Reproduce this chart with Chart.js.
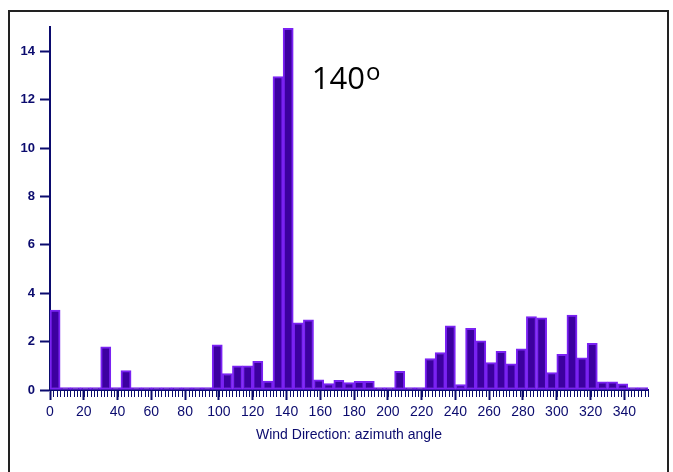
<!DOCTYPE html>
<html>
<head>
<meta charset="utf-8">
<script src="https://cdn.jsdelivr.net/npm/chart.js@4.4.1/dist/chart.umd.min.js"></script>
<style>
  html, body { margin: 0; padding: 0; background: #fff; }
  #wrap { width: 673px; height: 472px; }
</style>
</head>
<body>
<div id="wrap"><canvas id="windChart" width="673" height="472"></canvas></div>
<script>
// wind direction bins (left edge, degrees), each 6 degrees wide
const binStarts = [
    0, 6, 12, 18, 24, 30, 36, 42, 48, 54, 60, 66, 72, 78, 84, 90,
    96, 102, 108, 114, 120, 126, 132, 138, 144, 150, 156, 162, 168, 174,
    180, 186, 192, 198, 204, 210, 216, 222, 228, 234, 240, 246, 252, 258,
    264, 270, 276, 282, 288, 294, 300, 306, 312, 318, 324, 330, 336, 342, 348
];
const binWidth = 6;

const counts = [
    3.3, 0.1, 0.1, 0.1, 0.1, 1.78, 0.1, 0.8, 0.1, 0.1, 0.1, 0.1, 0.1, 0.1, 0.1, 0.1,
    1.87, 0.68, 1.0, 1.0, 1.18, 0.37, 12.95, 14.95, 2.78, 2.9, 0.42, 0.27, 0.4, 0.31,
    0.36, 0.36, 0.1, 0.1, 0.77, 0.1, 0.1, 1.3, 1.55, 2.65, 0.22, 2.55, 2.03, 1.13,
    1.6, 1.08, 1.7, 3.03, 2.98, 0.72, 1.47, 3.1, 1.33, 1.93, 0.34, 0.34, 0.26, 0.1, 0.1
];

const yTicks = [0, 2, 4, 6, 8, 10, 12, 14];
const xTicks = [0, 20, 40, 60, 80, 100, 120, 140, 160, 180, 200, 220, 240, 260, 280, 300, 320, 340];

const navy = '#0b0b6e';

const framePlugin = {
    id: 'frame',
    beforeDraw(chart) {
        const ctx = chart.ctx;
        ctx.save();
        ctx.fillStyle = '#fff';
        ctx.fillRect(0, 0, chart.width, chart.height);
        ctx.strokeStyle = '#222';
        ctx.lineWidth = 2;
        ctx.strokeRect(9, 11, 659, 500);
        ctx.restore();
    }
};

// small ticks every 2 degrees along the x axis
const minorTicks = {
    id: 'minorTicks',
    afterDraw(chart) {
        const ctx = chart.ctx;
        const x = chart.scales.x;
        const y0 = chart.chartArea.bottom + 1;
        ctx.save();
        ctx.strokeStyle = navy;
        ctx.lineWidth = 1;
        for (let v = 0; v <= 354; v += 2) {
            const px = Math.round(x.getPixelForValue(v)) + 0.5;
            ctx.beginPath();
            ctx.moveTo(px, y0);
            ctx.lineTo(px, y0 + 6);
            ctx.stroke();
        }
        ctx.restore();
    }
};

const peakLabel = {
    id: 'peakLabel',
    afterDraw(chart) {
        const ctx = chart.ctx;
        const px = chart.scales.x.getPixelForValue(155);
        const py = chart.scales.y.getPixelForValue(12.45);
        ctx.save();
        ctx.fillStyle = '#000';
        ctx.textBaseline = 'alphabetic';
        ctx.font = '31px "Open Sans"';
        ctx.fillText('140', px, py);
        const w = ctx.measureText('140').width;
        ctx.font = '24px "Open Sans"';
        ctx.fillText('o', px + w + 1, py - 9);
        ctx.restore();
    }
};

const ctx = document.getElementById('windChart').getContext('2d');
const windChart = new Chart(ctx, {
    type: 'bar',
    data: {
        datasets: [{
            label: 'Wind Direction',
            data: binStarts.map((b, i) => ({ x: b + binWidth / 2, y: counts[i] })),
            backgroundColor: '#3c00a0',
            borderColor: '#7a22f2',
            borderWidth: 2,
            borderSkipped: false,
            barPercentage: 1,
            categoryPercentage: 1
        }]
    },
    options: {
        responsive: false,
        animation: false,
        devicePixelRatio: 1,
        layout: { padding: { left: 0, right: 25, top: 27, bottom: 0 } },
        plugins: {
            legend: { display: false },
            tooltip: { enabled: false }
        },
        scales: {
            x: {
                type: 'linear',
                min: 0,
                max: 354,
                offset: false,
                afterBuildTicks: s => { s.ticks = xTicks.map(v => ({ value: v })); },
                afterFit: s => { s.height = 82; },
                grid: {
                    offset: false,
                    drawOnChartArea: false,
                    tickLength: 10,
                    tickWidth: 2,
                    color: navy
                },
                border: { color: navy, width: 2 },
                ticks: {
                    color: navy,
                    font: { family: 'Arial', size: 14 },
                    padding: 4,
                    maxRotation: 0,
                    autoSkip: false
                },
                title: {
                    display: true,
                    text: 'Wind Direction: azimuth angle',
                    color: navy,
                    font: { family: 'Arial', size: 14 },
                    padding: { top: 0, bottom: 28 }
                }
            },
            y: {
                min: 0,
                max: 15,
                afterBuildTicks: s => { s.ticks = yTicks.map(v => ({ value: v })); },
                afterFit: s => { s.width = 50; },
                grid: {
                    drawOnChartArea: false,
                    tickLength: 10,
                    tickWidth: 2,
                    color: navy
                },
                border: { color: navy, width: 2 },
                ticks: {
                    color: navy,
                    font: { family: 'Arial', size: 13, weight: 'bold' },
                    padding: 5
                }
            }
        }
    },
    plugins: [framePlugin, minorTicks, peakLabel]
});
</script>
</body>
</html>
